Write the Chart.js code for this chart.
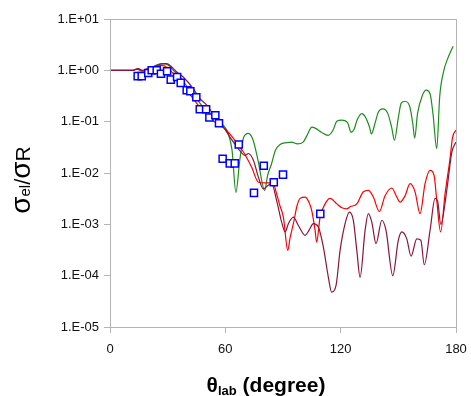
<!DOCTYPE html>
<html>
<head>
<meta charset="utf-8">
<script src="https://cdn.jsdelivr.net/npm/chart.js@4"></script>
<style>
  body { margin: 0; background: #fff; }
  canvas { display: block; }
</style>
</head>
<body>
<canvas id="grafico" width="471" height="396"></canvas>
<script>
// ANGLES / VALUES
const greenAngle = [0, 8, 12, 14, 17, 21, 24.5, 27.5, 30, 33.5, 36.5, 41.5, 47, 50.5, 54, 59, 61.5, 63.5, 65.5, 67.5,
    69.5, 72, 74.5, 77, 80.5, 82, 84, 86, 88.5, 92, 94.5, 97.5, 100.5, 102.5, 105, 107, 110, 113.5, 116, 118,
    120.5, 123.5, 125.5, 127, 128.5, 131, 133, 135, 136, 138, 139.5, 142, 144.5, 146.5, 148, 150, 151.5, 153.5, 156, 157.5,
    158.5, 160, 162.5, 164.5, 166.5, 168, 170, 171.5, 173.5, 176, 178.5];
const greenValue = [1, 1, 1, 1.05, 0.96, 1.09, 1.28, 1.35, 1.28, 0.96, 0.73, 0.41, 0.224, 0.159, 0.123, 0.085, 0.059, 0.0275, 0.0042, 0.0177,
    0.049, 0.059, 0.043, 0.0177, 0.0046, 0.009, 0.015, 0.0275, 0.036, 0.039, 0.040, 0.037, 0.040, 0.054, 0.0785, 0.074, 0.062, 0.054, 0.068, 0.102,
    0.107, 0.097, 0.062, 0.071, 0.106, 0.143, 0.12, 0.0785, 0.058, 0.097, 0.151, 0.178, 0.145, 0.078, 0.0435, 0.12, 0.229, 0.25, 0.193, 0.093,
    0.048, 0.145, 0.325, 0.41, 0.35, 0.145, 0.0297, 0.30, 0.93, 1.82, 2.94];

const redAngle = [0, 8, 12, 14, 16.6, 20.8, 24.5, 27, 29.7, 32.3, 36.4, 41.6, 46.8, 52, 56.2, 59.8, 62.4, 65, 69.4, 73.7,
    77.2, 80.6, 84.8, 86.7, 88.4, 90.2, 92.5, 93.7, 95.4, 97.3, 98.9, 101.5, 103.5, 104.9, 106.7, 107.5, 109.3, 111.9, 114.5, 118,
    120.6, 123.2, 124.9, 128.4, 131.8, 134.4, 137, 140.1, 143.1, 146.6, 149.2, 150.9, 153.5, 156.1, 158.7, 161.3, 163.9, 166.5, 168.6, 170,
    172, 174.3, 176.9, 178.2, 179.9];
const redValue = [1, 1, 1, 1.07, 1.0, 1.14, 1.22, 1.25, 1.14, 0.91, 0.64, 0.34, 0.19, 0.116, 0.089, 0.073, 0.057, 0.043, 0.0256, 0.0129,
    0.0066, 0.0064, 0.0064, 0.0039, 0.0023, 0.00138, 0.00031, 0.00055, 0.00103, 0.0023, 0.0032, 0.0034, 0.0027, 0.0019, 0.00076, 0.00045, 0.00138, 0.0025, 0.0032, 0.0025,
    0.0021, 0.0020, 0.0022, 0.0025, 0.0043, 0.0046, 0.0034, 0.00178, 0.0036, 0.0051, 0.0034, 0.0027, 0.0036, 0.0062, 0.0043, 0.00161, 0.0062, 0.0112, 0.0090, 0.0029,
    0.00071, 0.0039, 0.0192, 0.049, 0.068];

const darkAngle = [0, 8, 12, 14.7, 17.2, 20.8, 24.5, 27, 29.5, 31.7, 34.7, 38.1, 43.3, 46.8, 50.3, 52.9, 55.5, 59, 62.4, 66.8,
    70.2, 72, 74.6, 77.2, 79.8, 81.7, 84.1, 86.7, 89.3, 91.1, 92.8, 95.4, 98, 101.5, 103.5, 105.8, 108.4, 111, 113.6, 115.3,
    117.6, 119.7, 122.3, 124.5, 126.6, 128.4, 130.1, 132.7, 134.4, 136.2, 138.4, 141.4, 143.6, 147.1, 150, 151.8, 154.4, 156.6, 159.6, 161.7,
    163.5, 166.5, 169.1, 170.4, 172.1, 175.2, 177.8, 179.9];
const darkValue = [1, 1, 1, 1.08, 0.98, 1.09, 1.25, 1.34, 1.35, 1.2, 0.93, 0.74, 0.44, 0.28, 0.21, 0.154, 0.106, 0.0785, 0.050, 0.0296,
    0.022, 0.024, 0.0177, 0.0083, 0.0049, 0.0055, 0.0062, 0.0029, 0.0011, 0.00071, 0.00103, 0.00138, 0.00095, 0.00061, 0.00076, 0.00103, 0.00089, 0.00036, 0.000093, 0.000048,
    0.000065, 0.00031, 0.00103, 0.00173, 0.0012, 0.00031, 0.000093, 0.00076, 0.00161, 0.0011, 0.00042, 0.0012, 0.00076, 0.0001, 0.00049, 0.00071, 0.00052, 0.00024, 0.00052, 0.00049,
    0.000163, 0.00076, 0.0032, 0.0029, 0.001, 0.0046, 0.0251, 0.040];

const expAngle = [14.4, 16.5, 19.9, 21.7, 24.3, 26.5, 29.7, 31.6, 34.9, 36.8, 39.9, 41.8, 44.9, 46.7, 50.0, 51.7, 54.8, 56.7,
    58.6, 62.3, 64.9, 67.0, 74.9, 80.0, 85.2, 90.0, 109.4];
const expValue = [0.77, 0.77, 0.89, 1.0, 1.0, 0.86, 0.96, 0.66, 0.74, 0.57, 0.41, 0.39, 0.30, 0.174, 0.174, 0.121, 0.133, 0.093,
    0.019, 0.0154, 0.0154, 0.036, 0.0041, 0.0138, 0.0066, 0.0093, 0.0016];

const yTicks = [1e-5, 1e-4, 1e-3, 1e-2, 1e-1, 1, 10];

const gray = '#b4b4b4';
const fonte = '"Liberation Sans", Arial, sans-serif';

function pares(xs, ys) {
    return xs.map((x, i) => ({ x: x, y: ys[i] }));
}

// CAIXA CINZA + TITULOS DOS EIXOS
const extras = {
    id: 'extras',
    afterDraw(chart) {
        const ctx = chart.ctx;
        const a = chart.chartArea;
        ctx.save();
        ctx.strokeStyle = gray;
        ctx.lineWidth = 1;
        ctx.strokeRect(Math.round(a.left) + 0.5, Math.round(a.top) + 0.5, Math.round(a.right - a.left), Math.round(a.bottom - a.top));

        // TITULO Y (rodado)
        ctx.fillStyle = '#000';
        ctx.translate(30, 180);
        ctx.rotate(-Math.PI / 2);
        const partes = [
            { t: 'σ', f: '28px ' + fonte },
            { t: 'el', f: '15px ' + fonte },
            { t: '/', f: '22px ' + fonte },
            { t: 'σ', f: '28px ' + fonte },
            { t: 'R', f: '21px ' + fonte }
        ];
        let total = 0;
        partes.forEach(p => { ctx.font = p.f; total += ctx.measureText(p.t).width; });
        let x = -total / 2;
        ctx.textBaseline = 'alphabetic';
        partes.forEach(p => {
            ctx.font = p.f;
            ctx.fillText(p.t, x, 0);
            x += ctx.measureText(p.t).width;
        });
        ctx.restore();

        // TITULO X
        ctx.save();
        ctx.fillStyle = '#000';
        const px = [
            { t: 'θ', f: 'bold 21px ' + fonte, dy: 0 },
            { t: 'lab', f: 'bold 13px ' + fonte, dy: 3 },
            { t: ' (degree)', f: 'bold 21px ' + fonte, dy: 0 }
        ];
        let w = 0;
        px.forEach(p => { ctx.font = p.f; w += ctx.measureText(p.t).width; });
        let xx = 266 - w / 2;
        px.forEach(p => {
            ctx.font = p.f;
            ctx.fillText(p.t, xx, 392 + p.dy);
            xx += ctx.measureText(p.t).width;
        });
        ctx.restore();
    }
};

function gerarGrafico() {
    const ctx = document.getElementById('grafico').getContext('2d');

    const linha = (dados, cor) => ({
        type: 'line',
        data: dados,
        borderColor: cor,
        borderWidth: 1.2,
        pointRadius: 0,
        fill: false,
        cubicInterpolationMode: 'monotone'
    });

    const data = {
        datasets: [
            {
                type: 'scatter',
                data: pares(expAngle, expValue),
                pointStyle: 'rect',
                pointRadius: 5,
                borderColor: '#0000ff',
                backgroundColor: '#ffffff',
                borderWidth: 1.5,
                showLine: false,
                order: 0
            },
            Object.assign(linha(pares(darkAngle, darkValue), '#8a1538'), { order: 1 }),
            Object.assign(linha(pares(redAngle, redValue), '#ff0000'), { order: 2 }),
            Object.assign(linha(pares(greenAngle, greenValue), '#1e8c1e'), { order: 3 })
        ]
    };

    const options = {
        responsive: false,
        animation: false,
        layout: { padding: { left: 0, top: 19, right: 15, bottom: 0 } },
        plugins: { legend: { display: false }, tooltip: { enabled: false } },
        scales: {
            x: {
                type: 'linear',
                min: 0,
                max: 180,
                border: { color: gray },
                grid: { drawOnChartArea: false, drawTicks: true, tickLength: 6, color: gray },
                ticks: { stepSize: 60, padding: 9, color: '#111', font: { family: fonte, size: 13 }, maxRotation: 0 },
                afterFit(scale) {
                    scale.height = 69;
                    scale.paddingLeft = 0;
                    scale.paddingRight = 0;
                }
            },
            y: {
                type: 'logarithmic',
                min: 1e-5,
                max: 10,
                border: { color: gray },
                grid: { drawOnChartArea: false, drawTicks: true, tickLength: 6, color: gray },
                afterBuildTicks(scale) { scale.ticks = yTicks.map(v => ({ value: v })); },
                ticks: {
                    padding: 5,
                    color: '#111',
                    font: { family: fonte, size: 13 },
                    callback: function (value) {
                        const e = Math.round(Math.log10(value));
                        return '1.E' + (e < 0 ? '-' : '+') + String(Math.abs(e)).padStart(2, '0');
                    }
                },
                afterFit(scale) {
                    scale.width = 110;
                    scale.paddingTop = 0;
                    scale.paddingBottom = 0;
                }
            }
        }
    };

    new Chart(ctx, { data: data, options: options, plugins: [extras] });
}

gerarGrafico();
</script>
</body>
</html>
